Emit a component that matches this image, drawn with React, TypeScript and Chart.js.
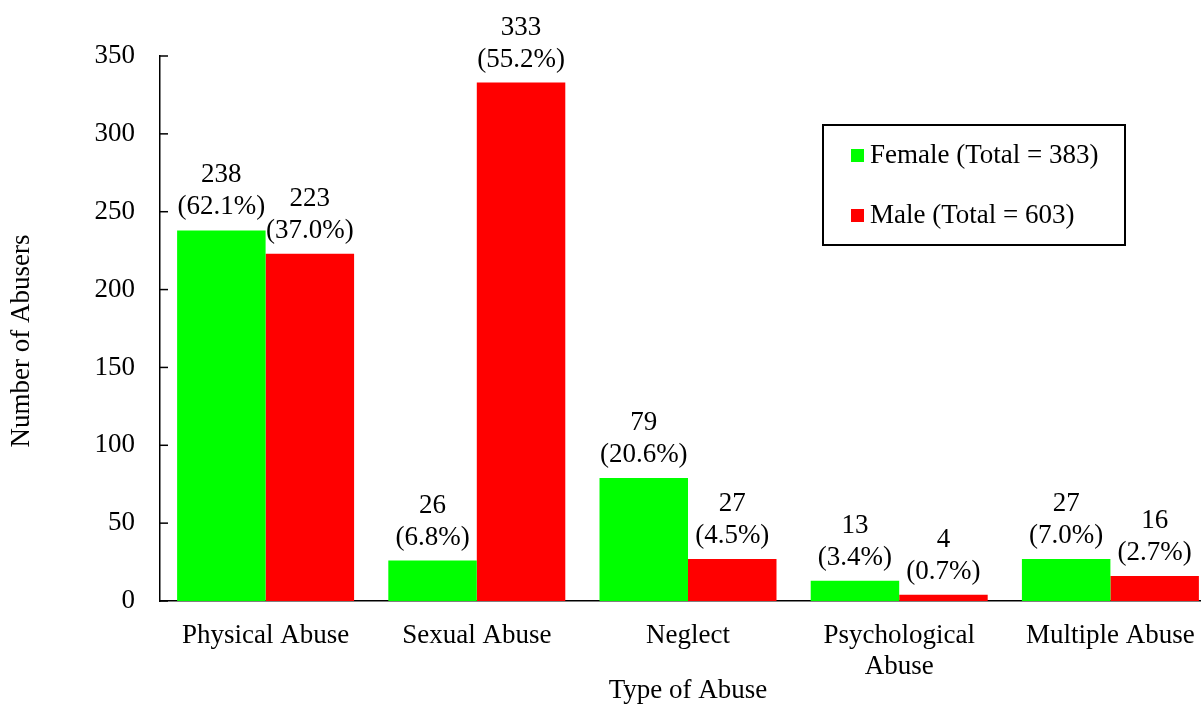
import React, { useEffect, useRef } from "react";
import { Chart, registerables } from "chart.js";

Chart.register(...registerables);

const categories: (string | string[])[] = [
  "Physical Abuse",
  "Sexual Abuse",
  "Neglect",
  ["Psychological", "Abuse"],
  "Multiple Abuse",
];
const femaleValues = [238, 26, 79, 13, 27];
const maleValues = [223, 333, 27, 4, 16];
const femalePct = ["62.1", "6.8", "20.6", "3.4", "7.0"];
const malePct = ["37.0", "55.2", "4.5", "0.7", "2.7"];
const femaleLabel = "Female (Total = 383)";
const maleLabel = "Male (Total = 603)";
const yTicks = [0, 50, 100, 150, 200, 250, 300, 350];
const yTitle = "Number of Abusers";
const xTitle = "Type of Abuse";

const FONT = "'Liberation Serif', 'Times New Roman', serif";
const SIZE = 27;
const pctByDataset = [femalePct, malePct];

const labelPlugin = {
  id: "barLabels",
  afterDatasetsDraw(chart: any) {
    const ctx = chart.ctx;
    ctx.save();
    ctx.font = `${SIZE}px ${FONT}`;
    ctx.fillStyle = "#000";
    ctx.textAlign = "center";
    ctx.textBaseline = "middle";
    chart.data.datasets.forEach((ds: any, di: number) => {
      const meta = chart.getDatasetMeta(di);
      meta.data.forEach((bar: any, i: number) => {
        const x = bar.x;
        const y = bar.y;
        ctx.fillText(String(ds.data[i]), x, y - 55);
        ctx.fillText(`(${pctByDataset[di][i]}%)`, x, y - 23);
      });
    });
    ctx.restore();
  },
};

const tickPlugin = {
  id: "innerTicks",
  afterDraw(chart: any) {
    const ctx = chart.ctx;
    const y = chart.scales.y;
    ctx.save();
    ctx.strokeStyle = "#000";
    ctx.lineWidth = 1.5;
    yTicks.forEach((v) => {
      const py = y.getPixelForValue(v);
      ctx.beginPath();
      ctx.moveTo(chart.chartArea.left, py);
      ctx.lineTo(chart.chartArea.left + 8, py);
      ctx.stroke();
    });
    // y-axis title
    ctx.fillStyle = "#000";
    ctx.font = `${SIZE}px ${FONT}`;
    ctx.textAlign = "center";
    ctx.textBaseline = "middle";
    ctx.translate(22, 341);
    ctx.rotate(-Math.PI / 2);
    ctx.fillText(yTitle, 0, 0);
    ctx.restore();
  },
};

const legendPlugin = {
  id: "boxLegend",
  afterDraw(chart: any) {
    const ctx = chart.ctx;
    ctx.save();
    ctx.strokeStyle = "#000";
    ctx.lineWidth = 2;
    ctx.strokeRect(823, 125, 302, 120);
    ctx.font = `${SIZE}px ${FONT}`;
    ctx.textAlign = "left";
    ctx.textBaseline = "middle";
    const rows = [156, 216];
    chart.data.datasets.forEach((ds: any, di: number) => {
      const cy = rows[di];
      ctx.fillStyle = ds.backgroundColor;
      ctx.fillRect(851, cy - 7, 13, 13);
      ctx.fillStyle = "#000";
      ctx.fillText(ds.label, 870, cy);
    });
    ctx.restore();
  },
};

export default function App() {
  const ref = useRef<HTMLCanvasElement>(null);
  useEffect(() => {
    if (!ref.current) return;
    const chart = new Chart(ref.current, {
      type: "bar",
      data: {
        labels: categories as any,
        datasets: [
          {
            label: femaleLabel,
            data: femaleValues,
            backgroundColor: "#00ff00",
            borderWidth: 0,
            categoryPercentage: 0.838,
            barPercentage: 1,
          },
          {
            label: maleLabel,
            data: maleValues,
            backgroundColor: "#ff0000",
            borderWidth: 0,
            categoryPercentage: 0.838,
            barPercentage: 1,
          },
        ],
      },
      options: {
        responsive: false,
        animation: false,
        layout: { padding: { top: 56, right: 0, bottom: 0, left: 0 } },
        plugins: {
          legend: { display: false },
          tooltip: { enabled: false },
        },
        scales: {
          x: {
            grid: { display: false, drawTicks: false },
            border: { display: true, color: "#000", width: 1.5 },
            ticks: {
              color: "#000",
              font: { family: FONT, size: SIZE, lineHeight: 31 / SIZE },
              padding: 19,
              maxRotation: 0,
              autoSkip: false,
            },
            title: {
              display: true,
              text: xTitle,
              color: "#000",
              font: { family: FONT, size: SIZE, lineHeight: 1.0 },
              padding: { top: 0, bottom: 0 },
            },
            afterFit(scale: any) {
              scale.height = 103;
            },
          },
          y: {
            min: 0,
            max: 350,
            grid: { display: false, drawTicks: false },
            border: { display: true, color: "#000", width: 1.5 },
            ticks: {
              stepSize: 50,
              color: "#000",
              font: { family: FONT, size: SIZE },
              padding: 25,
            },
            afterFit(scale: any) {
              scale.width = 160;
            },
          },
        },
      },
      plugins: [labelPlugin, tickPlugin, legendPlugin],
    });
    return () => chart.destroy();
  }, []);
  return (
    <div
      style={{
        position: "fixed",
        left: 0,
        top: 0,
        width: 1201,
        height: 704,
        overflow: "hidden",
        background: "#fff",
      }}
    >
      <canvas ref={ref} width={1216} height={704} style={{ display: "block" }} />
    </div>
  );
}
